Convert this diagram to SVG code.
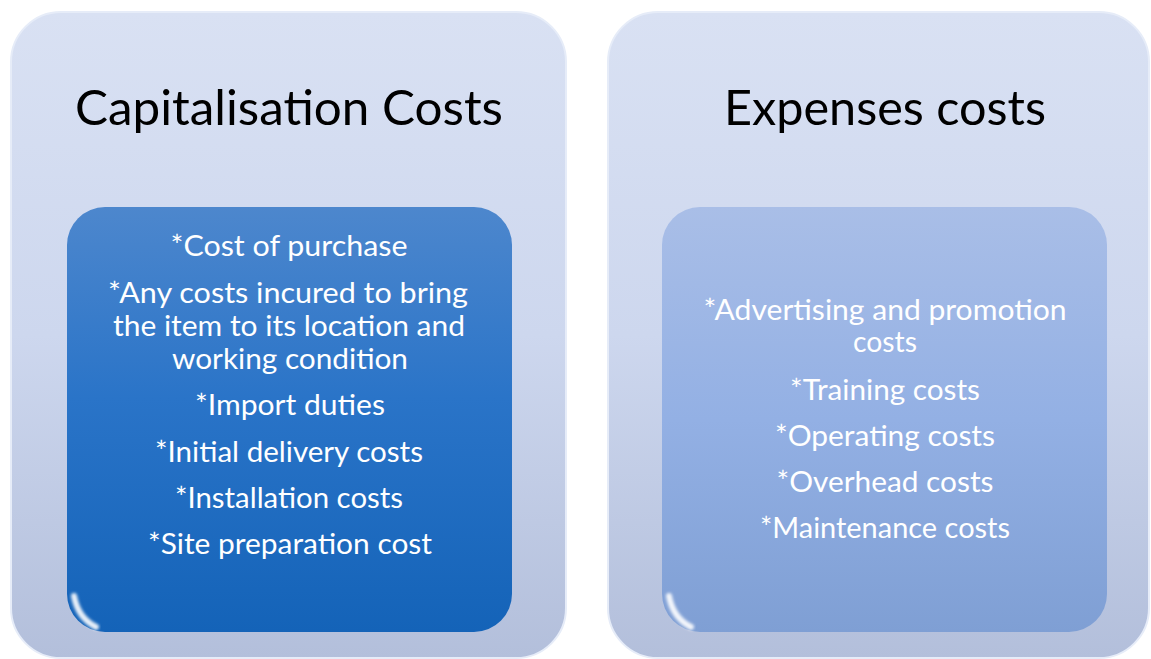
<svg xmlns="http://www.w3.org/2000/svg" width="1151" height="659" viewBox="0 0 1151 659">
  <defs>
    <linearGradient id="outerGrad" x1="0" y1="0" x2="0" y2="1">
      <stop offset="0" stop-color="#d9e1f3"/>
      <stop offset="0.5" stop-color="#cdd7ee"/>
      <stop offset="1" stop-color="#b3bfdb"/>
    </linearGradient>
    <linearGradient id="innerDark" x1="0" y1="0" x2="0" y2="1">
      <stop offset="0" stop-color="#4d87cd"/>
      <stop offset="0.45" stop-color="#2a74c8"/>
      <stop offset="1" stop-color="#1463b8"/>
    </linearGradient>
    <linearGradient id="innerLight" x1="0" y1="0" x2="0" y2="1">
      <stop offset="0" stop-color="#a9bee7"/>
      <stop offset="0.5" stop-color="#93b0e4"/>
      <stop offset="1" stop-color="#7f9fd4"/>
    </linearGradient>
    <linearGradient id="topGloss" x1="0" y1="0" x2="1" y2="0">
      <stop offset="0" stop-color="#ffffff" stop-opacity="0"/>
      <stop offset="0.15" stop-color="#ffffff" stop-opacity="0.45"/>
      <stop offset="0.85" stop-color="#ffffff" stop-opacity="0.45"/>
      <stop offset="1" stop-color="#ffffff" stop-opacity="0"/>
    </linearGradient>
    <filter id="blur2" x="-20%" y="-20%" width="140%" height="140%">
      <feGaussianBlur stdDeviation="1.5"/>
    </filter>
  </defs>
  <style>
    .outer { fill: url(#outerGrad); stroke: #e6ecf8; stroke-width: 2; }
    .title { font-family: "Gill Sans", "Lato", "Open Sans", sans-serif; font-size: 49px; fill: #000000; text-anchor: middle; }
    .item { font-family: "Gill Sans", "Lato", "Open Sans", sans-serif; font-size: 28.5px; fill: #ffffff; text-anchor: middle; }
    .gloss { fill: none; stroke: url(#topGloss); stroke-width: 4; filter: url(#blur2); }
    .corner { fill: none; stroke: #ffffff; stroke-width: 6; stroke-linecap: round; opacity: 0.9; filter: url(#blur2); }
  </style>

  <rect width="1151" height="659" fill="#ffffff"/>

  <g id="capitalisation">
    <rect class="outer" x="11" y="12" width="555" height="646" rx="50" ry="50"/>
    <text class="title" x="289" y="125" textLength="428" lengthAdjust="spacingAndGlyphs">Capitalisation Costs</text>
    <g id="capitalisation-items">
      <rect x="67" y="207" width="445" height="425" rx="38" ry="38" fill="url(#innerDark)"/>
      <path class="gloss" d="M95 214 H484"/>
      <path class="corner" d="M74 596 Q78 618 96 627"/>
      <text class="item" x="289" y="256" textLength="237" lengthAdjust="spacingAndGlyphs">*Cost of purchase</text>
      <text class="item" x="288" y="303" textLength="360" lengthAdjust="spacingAndGlyphs">*Any costs incured to bring</text>
      <text class="item" x="289" y="336" textLength="352" lengthAdjust="spacingAndGlyphs">the item to its location and</text>
      <text class="item" x="290" y="369" textLength="236" lengthAdjust="spacingAndGlyphs">working condition</text>
      <text class="item" x="290" y="415" textLength="190" lengthAdjust="spacingAndGlyphs">*Import duties</text>
      <text class="item" x="289" y="462" textLength="268" lengthAdjust="spacingAndGlyphs">*Initial delivery costs</text>
      <text class="item" x="289" y="508" textLength="228" lengthAdjust="spacingAndGlyphs">*Installation costs</text>
      <text class="item" x="290" y="554" textLength="284" lengthAdjust="spacingAndGlyphs">*Site preparation cost</text>
    </g>
  </g>

  <g id="expenses">
    <rect class="outer" x="608" y="12" width="541" height="646" rx="50" ry="50"/>
    <text class="title" x="885" y="125" textLength="322" lengthAdjust="spacingAndGlyphs">Expenses costs</text>
    <g id="expenses-items">
      <rect x="662" y="207" width="445" height="425" rx="38" ry="38" fill="url(#innerLight)"/>
      <path class="gloss" d="M690 214 H1079"/>
      <path class="corner" d="M669 596 Q673 618 691 627"/>
      <text class="item" x="885" y="320" textLength="363" lengthAdjust="spacingAndGlyphs">*Advertising and promotion</text>
      <text class="item" x="885" y="352" textLength="64" lengthAdjust="spacingAndGlyphs">costs</text>
      <text class="item" x="885" y="400" textLength="190" lengthAdjust="spacingAndGlyphs">*Training costs</text>
      <text class="item" x="885" y="446" textLength="220" lengthAdjust="spacingAndGlyphs">*Operating costs</text>
      <text class="item" x="885" y="492" textLength="217" lengthAdjust="spacingAndGlyphs">*Overhead costs</text>
      <text class="item" x="885" y="538" textLength="250" lengthAdjust="spacingAndGlyphs">*Maintenance costs</text>
    </g>
  </g>
</svg>
